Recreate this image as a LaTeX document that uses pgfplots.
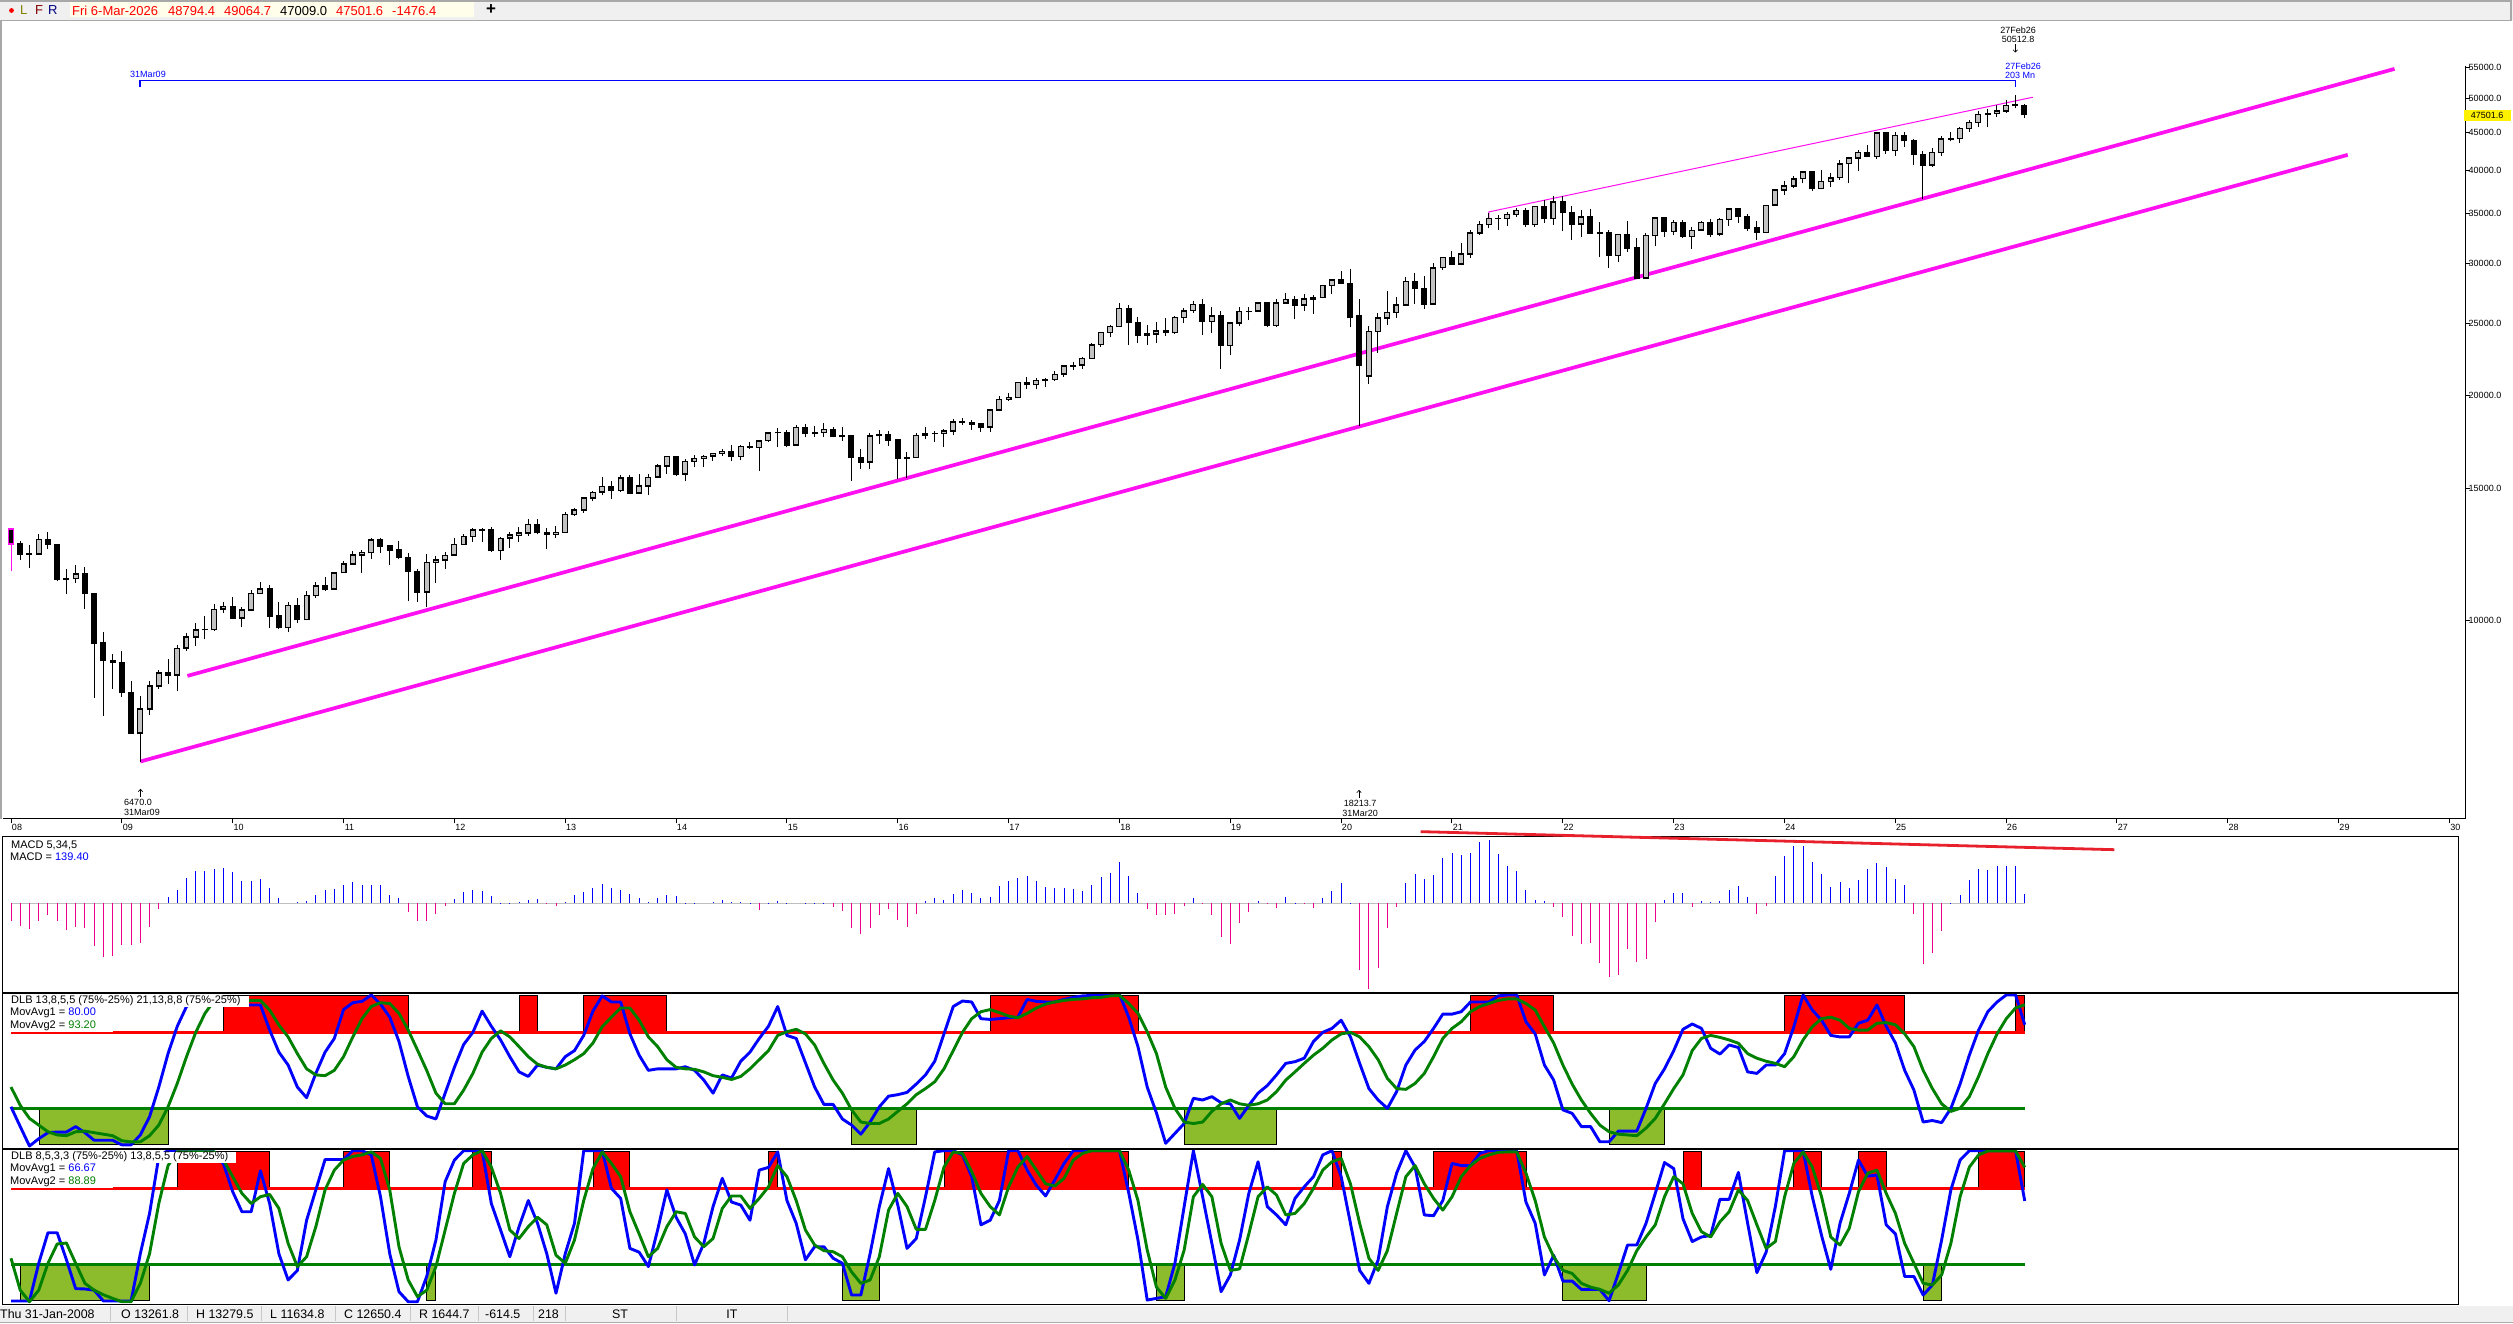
\documentclass[border=0pt]{standalone}
\usepackage{pgfplots}
\pgfplotsset{compat=1.18}
\usepackage{pgfplotstable}
\usepackage{fontspec}
\setmainfont{Liberation Sans}
\usetikzlibrary{arrows.meta}
\definecolor{mag}{HTML}{FF10F0}
\definecolor{gr}{HTML}{008000}
\definecolor{zone}{HTML}{8CBB2C}
\definecolor{bar}{HTML}{F0F0F0}
\definecolor{frame}{HTML}{A8A8A8}
\newcommand\fsz[1]{\fontsize{#1}{#1}\selectfont}
\pgfplotstableread{
i o h l c
0 13262 13280 11635 12650
1 12650 12767 12034 12266
2 12266 12620 11731 12263
3 12263 13031 12260 12820
4 12820 13136 12442 12638
5 12638 12660 11287 11350
6 11350 11698 10827 11378
7 11378 11867 11221 11544
8 11544 11790 10365 10851
9 10851 10882 7882 9325
10 9325 9654 7449 8829
11 8829 9026 8090 8776
12 8776 9088 7905 8001
13 8001 8300 7050 7063
14 7063 7925 6470 7609
15 7609 8291 7472 8168
16 8168 8590 8086 8500
17 8500 8880 8210 8447
18 8447 9270 8050 9172
19 9172 9620 9105 9496
20 9496 9920 9250 9712
21 9712 10119 9430 9713
22 9713 10500 9680 10345
23 10345 10580 10240 10428
24 10428 10730 10025 10067
25 10067 10430 9805 10325
26 10325 10970 10300 10856
27 10856 11255 10840 11008
28 11008 11150 9775 10136
29 10136 10590 9745 9774
30 9774 10590 9630 10465
31 10465 10720 9925 10014
32 10014 10950 10000 10788
33 10788 11245 10725 11118
34 11118 11430 10940 11006
35 11006 11610 11000 11577
36 11577 12000 11570 11891
37 11891 12390 11880 12226
38 12226 12420 11555 12319
39 12319 12876 12090 12810
40 12810 12876 12303 12569
41 12569 12600 11862 12414
42 12414 12750 12095 12143
43 12143 12290 10600 11613
44 11613 11720 10590 10913
45 10913 12280 10404 11955
46 11955 12200 11230 12045
47 12045 12330 11710 12217
48 12217 12880 12200 12632
49 12632 13060 12620 12952
50 12952 13300 12745 13212
51 13212 13297 12710 13213
52 13213 13338 12340 12393
53 12393 12910 12035 12880
54 12880 13125 12500 13008
55 13008 13330 12720 13090
56 13090 13650 12960 13437
57 13437 13660 13035 13096
58 13096 13300 12470 13025
59 13025 13365 12880 13104
60 13104 13970 13100 13860
61 13860 14137 13785 14054
62 14054 14585 13937 14578
63 14578 14890 14434 14839
64 14839 15542 14700 15115
65 15115 15340 14550 14909
66 14909 15635 14860 15499
67 15499 15658 14777 14810
68 14810 15709 14777 15129
69 15129 15700 14719 15545
70 15545 16174 15500 16086
71 16086 16588 15703 16576
72 16576 16588 15620 15698
73 15698 16420 15340 16321
74 16321 16630 16060 16457
75 16457 16630 16015 16580
76 16580 16735 16360 16717
77 16717 16970 16580 16826
78 16826 17150 16333 16563
79 16563 17150 16370 17098
80 17098 17350 16945 17042
81 17042 17395 15855 17390
82 17390 17894 17350 17828
83 17828 18103 17067 17823
84 17823 17951 17037 17164
85 17164 18244 17150 18132
86 18132 18289 17580 17776
87 17776 18175 17600 17840
88 17840 18351 17580 18010
89 18010 18168 17580 17619
90 17619 18137 17399 17689
91 17689 17700 15370 16528
92 16528 16933 15942 16284
93 16284 17799 15940 17663
94 17663 17978 17210 17719
95 17719 17900 17139 17425
96 17425 17430 15450 16466
97 16466 16795 15503 16516
98 16516 17790 16510 17685
99 17685 18167 17484 17773
100 17773 17934 17331 17787
101 17787 18016 17063 17929
102 17929 18622 17713 18432
103 18432 18668 18247 18400
104 18400 18530 17992 18308
105 18308 18399 17884 18142
106 18142 19152 17884 19123
107 19123 19988 19100 19762
108 19762 20126 19677 19864
109 19864 20851 19831 20812
110 20812 21169 20413 20663
111 20663 21070 20379 20940
112 20940 21112 20553 21008
113 21008 21535 20900 21349
114 21349 21929 21170 21891
115 21891 22180 21600 21948
116 21948 22500 21709 22405
117 22405 23485 22400 23377
118 23377 24330 23242 24272
119 24272 24876 23921 24719
120 24719 26617 24700 26149
121 26149 26420 23360 25029
122 25029 25449 23509 24103
123 24103 24858 23344 24163
124 24163 25087 23531 24415
125 24415 25403 23998 24271
126 24271 25585 24200 25415
127 25415 26168 24965 25964
128 25964 26769 25800 26458
129 26458 26951 24122 25115
130 25115 26277 24268 25538
131 25538 25980 21713 23327
132 23327 25000 22639 24999
133 24999 26241 24800 25916
134 25916 26241 25208 25928
135 25928 26696 25900 26592
136 26592 26696 24680 24815
137 24815 26900 24680 26599
138 26599 27399 26580 26864
139 26864 27140 25339 26403
140 26403 27306 25978 26917
141 26917 27290 25743 27046
142 27046 28119 27000 28051
143 28051 28607 27325 28538
144 28538 29373 28169 28256
145 28256 29568 24681 25409
146 25590 26953 18214 21917
147 21227 24764 20735 24346
148 24346 25758 22790 25383
149 25383 27580 24843 25813
150 25813 27088 25390 26428
151 26428 28800 26400 28430
152 28430 29199 26537 27782
153 27782 28902 26143 26501
154 26501 30116 26490 29639
155 29639 30637 29400 30606
156 30606 31193 29856 29983
157 29983 31985 29856 30932
158 30932 33259 30547 32982
159 32982 34257 32835 33874
160 33874 35091 33473 34529
161 34529 34849 33271 34503
162 34503 35171 33741 34935
163 34935 35631 34690 35361
164 35361 35631 33613 33844
165 33844 35892 33613 35820
166 35820 36565 34006 34484
167 34484 36934 33860 36338
168 36338 36952 33150 35132
169 35132 35824 32272 33893
170 33893 35372 32632 34678
171 34678 35492 32913 32977
172 32977 34118 30635 32990
173 32990 33272 29653 30775
174 30775 32910 30143 32845
175 32845 34281 31155 31510
176 31510 32504 28715 28726
177 28726 33000 28660 32733
178 32733 34700 31727 34590
179 34590 34712 32574 33147
180 33147 34334 32812 34086
181 34086 34379 32500 32657
182 32657 33650 31430 33274
183 33274 34257 33235 34098
184 34098 34400 32587 32908
185 32908 34600 32700 34408
186 34408 35679 33705 35560
187 35560 35679 34029 34722
188 34722 34979 33235 33508
189 33508 34256 32327 33052
190 33052 36000 33000 35951
191 35951 37778 35900 37690
192 37690 38783 37122 38150
193 38150 39282 37960 38996
194 38996 39889 38450 39807
195 39807 39889 37611 37816
196 37816 40077 37750 38686
197 38686 39746 38027 39119
198 39119 41376 38900 40843
199 40843 41577 38499 41563
200 41563 42628 40000 42330
201 42330 43325 41700 41763
202 41763 45073 41450 44911
203 44911 45073 42110 42544
204 42544 45054 41844 44545
205 44545 45000 43050 43841
206 43841 44050 40661 42002
207 42002 42500 36612 40669
208 40669 42842 40420 42270
209 42270 44500 41830 44095
210 44095 45103 43750 44131
211 44131 45775 43500 45545
212 45545 46714 45050 46398
213 46398 48040 45728 47563
214 47563 48431 45728 47716
215 47716 48886 47240 48063
216 48063 49640 47800 48892
217 48892 50513 48500 48978
218 48794 49065 47009 47502
}\ohlc
\pgfplotstableread{
i m bi gi bii gii
0 -260 26 39 0.9 29
1 -340 13 27 0.9 8
2 -385 0.2 18.4 0.9 0.4
3 -260 5 14 25.7 8
4 -175 9 9.6 45.8 25.7
5 -260 9.4 7.5 45.8 38.4
6 -400 9.4 7 28 39
7 -350 13 9.6 9 25.7
8 -370 9 10 8.8 12.5
9 -635 4 9 8 8
10 -800 4 8 0.9 5
11 -790 4 7 0.9 2.6
12 -625 1 3.7 0.9 0.4
13 -625 1 2.9 0.9 0.4
14 -590 7.5 3 32 12.5
15 -355 19.5 7 58.5 32
16 -85 39 14 95.8 65
17 90 61 26 100 90
18 200 79 41.4 99 99
19 380 92 59 99 99
20 475 96 75 99 99
21 485 97 87.5 99 99
22 515 97 96 99 99
23 530 97 96 91 93.6
24 465 93 96 72.8 82.7
25 335 93 96 59.6 71.7
26 335 93 96 59.6 65
27 365 93 96 86.6 69.5
28 230 76.5 89.7 65 71
29 80 62 79.8 32 61.8
30 0 53.5 72 14.7 38.8
31 10 39 61 21 23.5
32 35 32 51 54 30
33 125 48 47 74 49.8
34 190 62 46.5 94 74
35 215 71 50 94 87
36 275 90 59 94 93.6
37 320 94.5 72 99.8 96
38 265 95.4 84 99.8 97
39 270 99.6 92 97 99
40 265 93.6 94.5 69.5 94.7
41 125 85 94 32 74
42 70 69 87.5 7 36.6
43 -130 46 76.5 0.4 14.7
44 -260 26 63.4 0.4 3.7
45 -260 20 50 17 8
46 -170 18 35 41 23.5
47 -50 35 28 79.4 47.6
48 65 52 28 93.6 71.7
49 170 67 37 99.8 91.4
50 200 75 48 99.8 97
51 185 89 62 99.8 99.8
52 100 79 71 65 89
53 5 70 76 47.6 71.7
54 5 59 72 30 47.6
55 10 49 65.6 49.8 42
56 50 46 59 67 49.8
57 65 53.5 54 52 56
58 -20 52 52 32 51
59 -40 51 51 6 31
60 20 59 53.5 32 25.7
61 115 63 57 52 41
62 170 73 61 99.8 67
63 230 89 68 99.8 88
64 290 99 78.7 99.8 99
65 225 95 85 75 91.4
66 200 95 91 68.4 82.7
67 140 74 91 35.5 59.6
68 70 60 83 33 45
69 10 50 72 23.5 30
70 80 51 65.6 47.6 35.5
71 125 51 57 74 49.8
72 100 51 52 56 59.6
73 5 52.4 51 45 58.5
74 5 50 50.7 24.6 43
75 0 43.6 49 38.8 36.6
76 10 35 46.5 63 42
77 40 47 45.4 81.6 61.8
78 10 45 44 66 70
79 10 56 46 64 70
80 5 62 51 54 61.8
81 -100 71 57 87 68.4
82 5 79 63 88.8 76
83 35 92 73 99 90
84 5 73 75.4 67 82.7
85 0 71 77 52 67
86 5 55 74 28 47.6
87 5 39 66.7 36.6 37.7
88 5 27.6 54.6 36.6 34
89 -55 27.6 43.6 29 33.3
90 -115 18 35 25.7 30
91 -365 14 24 4.8 20
92 -460 8 16 4.8 12.5
93 -365 16 15 32 14.7
94 -175 26 15 63 30
95 -85 33 18 88 60.7
96 -250 34 23 64 71.7
97 -350 35.5 28 35.5 63
98 -160 41 34 42 48
99 35 47 38 69.5 48
100 80 56 42.5 99 67
101 50 74 51 99.8 89
102 140 92 63 99.8 99
103 200 95.6 75 97 98
104 155 95 84 82.7 86
105 80 84 88.6 51 71.7
106 95 83.5 90 54 63
107 260 84 88 67 57.5
108 335 84.6 85.7 99.8 76
109 380 85 84.6 99.8 89
110 410 96.7 87.5 87 96
111 335 95.4 91 77 87
112 245 95 93.6 70 78
113 230 95 95 80.5 76.5
114 230 96.7 96 91.4 81.6
115 215 98 96.7 99.8 93.6
116 185 99 97 99.8 98
117 275 99.3 97.8 99.8 99.8
118 395 99.6 98 99.8 99.8
119 455 99.8 99 99.8 99.8
120 620 100 99.3 99.8 99.8
121 410 85 94 72 87
122 155 65.6 87.5 41 67
123 -85 39 75.4 1.5 34.4
124 -175 22 61 2.6 10
125 -175 2 39 3.7 2.6
126 -160 8.5 25 25.7 14.7
127 -40 15 16 63 34.4
128 80 31.6 15 99.8 69.5
129 -20 30.5 16 69.5 77.6
130 -175 32.7 23 38.8 69.5
131 -505 28.7 28 7 38.8
132 -610 28 30.5 18 21
133 -295 18.4 28 41 22
134 -130 27 27 71.7 45
135 35 35 28 92.5 69.5
136 -20 40 30.5 63 76
137 -70 47 36 57.5 70.6
138 95 54.6 43.6 51 57.5
139 5 55.7 49 68.4 58.5
140 -10 58 54.6 76 65
141 -70 69 60 82.7 75
142 80 75 64.5 97 87
143 185 77.6 70 99.8 92.5
144 305 83 74 82.7 94.7
145 5 72 75 52 78
146 -1000 54.6 72 21 52
147 -1285 38 65.6 12.5 29
148 -970 30.5 57 27.9 21
149 -370 25 44.7 63 34
150 -55 36 38 85 58.5
151 305 53.5 37.5 99.8 82.7
152 440 63.4 41.4 89 90
153 365 69 48 57.5 78
154 425 77.6 59 57 68.4
155 680 87 71 67 60.7
156 755 87 77.6 91.4 69.5
157 725 88.6 82 90 82.7
158 755 95 88.6 90 90
159 920 95 92 98 94.7
160 950 95 94 99.8 97
161 740 99 96 99.8 98.7
162 560 99.6 97 99.8 99
163 485 99.6 97 99.8 99
164 200 82 94 66 85
165 50 74 89.7 52 67
166 35 53.5 78.7 18 43
167 -55 43.6 68 31 30
168 -205 24 53.5 14 21
169 -490 21.7 41 14 19
170 -610 13 30.5 8.5 12.5
171 -595 13 21.7 8.5 10
172 -895 3 14 8.5 8.5
173 -1105 3 9.6 1 6
174 -1075 10 8 19 11.4
175 -685 10 7.5 37.7 21
176 -880 10 7 37.7 34
177 -835 25 12 52 43
178 -280 41.4 18.4 71.7 51
179 50 51 28 92 69.5
180 155 63 38 88 82.7
181 155 77 47 55 78
182 -55 80.5 63 40 58.5
183 35 77.6 71 43 46.5
184 15 64.5 73 44 43
185 35 60.7 71.7 67.8 53
186 200 66.7 70 67.8 59.6
187 260 65 67.8 85.5 74
188 95 49 61 52 67
189 -160 48 58 19.5 51
190 -40 53.5 56 33 35.5
191 410 53.5 54.6 63 40
192 710 61 52.4 99.8 69.5
193 860 78.7 59 99.8 91.4
194 860 99.6 70 99.8 99
195 620 89.7 78.7 69.5 89
196 440 83 84 44 69.5
197 245 73 85 21.7 43
198 320 72 83 52 37.7
199 230 72 77.6 71.7 48.7
200 350 81 76.5 93.6 72.8
201 515 83 76.5 83 85
202 605 93 81 83.8 87
203 545 79 81.4 51 71.7
204 365 68 80 45 58.5
205 275 50 74 17 38.8
206 -160 37 65.6 17 25.7
207 -910 16 50 4.8 12.5
208 -745 17 38 11.4 11.4
209 -415 15.6 28 41 18
210 5 25 23 74 38.8
211 125 41 25 93.6 69.5
212 350 60 32.7 99.8 89
213 515 76.5 46 99.8 97
214 500 88.6 61 99.8 99.6
215 560 95 74 99.8 99.6
216 560 99.6 84 99.8 99.6
217 560 99.6 91 99.8 99.6
218 140 80 93.2 66.7 88.9
}\ind
\pgfplotsset{
  lower/.style={anchor=south west, scale only axis, xmin=-0.899, xmax=264.9,
    width=2455.3pt, xtick=\empty, ytick=\empty, axis line style={line width=1pt}},
  rz/.style={fill=red, draw=black, line width=0.9pt},
  gz/.style={fill=zone, draw=black, line width=0.9pt},
  bars/.style 2 args={draw=none, mark=none, forget plot,
    error bars/.cd, y dir=plus, y explicit, error mark=none,
    error bar style={draw=#1, line width=#2}},
}
\begin{document}
\begin{tikzpicture}
\path[use as bounding box] (0pt,0pt) rectangle (2513pt,1323pt);
\fill[white] (0pt,0pt) rectangle (2513pt,1323pt);
% --- price pane
\begin{axis}[anchor=south west, at={(2.7pt,504pt)}, scale only axis, width=2462.3pt, height=798pt,
  ymode=log, xmin=-0.899, xmax=265.7, ymin=5420, ymax=63437,
  axis x line*=bottom, axis y line*=right, y axis line style={draw=none},
  x axis line style={line width=1pt,-}, tick style={black,line width=0.8pt},
  tick align=outside, major tick length=4.5pt, yminorticks=false, log basis y=10,
  xtick={0,12,...,264},
  xticklabels={08,09,10,11,12,13,14,15,16,17,18,19,20,21,22,23,24,25,26,27,28,29,30},
  xticklabel style={font=\fsz{9}, anchor=north, xshift=6pt, inner sep=0pt, yshift=-0.5pt},
  ytick={10000,15000,20000,25000,30000,35000,40000,45000,50000,55000},
  yticklabels={10000.0,15000.0,20000.0,25000.0,30000.0,35000.0,40000.0,45000.0,50000.0,55000.0},
  yticklabel style={font=\fsz{9}, anchor=west, inner sep=0pt, xshift=-1pt},
]
\addplot[mag, line width=3.7pt, forget plot] coordinates {(14,6470)(253,41980)};
\addplot[mag, line width=3.7pt, forget plot] coordinates {(19.1,8424)(258.07,54720)};
\addplot[mag, line width=1pt, forget plot] coordinates {(160,34570)(160,35210)(218.9,50140)};
\addplot[blue, line width=1.2pt, forget plot] coordinates {(217,51760)(217,52840)(14,52840)};
\addplot[blue, line width=2pt, forget plot] coordinates {(14,52840)(14,51700)};
% wicks
\addplot[bars={black}{1pt}] table[x=i, y=l, y error plus expr=\thisrow{h}-\thisrow{l}] {\ohlc};
% body outline (black)
\addplot[bars={black}{6pt}] table[x=i,
  y expr={min(\thisrow{o},\thisrow{c})/1.002},
  y error plus expr={max(\thisrow{o},\thisrow{c})*1.002-min(\thisrow{o},\thisrow{c})/1.002}] {\ohlc};
% body fill of rising months (grey)
\addplot[bars={black!24}{3.8pt}] table[x=i,
  y expr={\thisrow{o}*1.0025},
  y error plus expr={ifthenelse(\thisrow{c}>\thisrow{o}*1.005,\thisrow{c}/1.0025-\thisrow{o}*1.0025,0)}] {\ohlc};
% first month, highlighted
\addplot[mag, line width=1pt, forget plot] coordinates {(0,11635)(0,13280)};
\addplot[mag, line width=6pt, forget plot] coordinates {(0,12610)(0,13300)};
\addplot[black, line width=3.4pt, forget plot] coordinates {(0,12690)(0,13220)};
\end{axis}
% --- MACD pane
\begin{axis}[lower, at={(2.7pt,330pt)}, height=156pt, ymin=-1345, ymax=990, clip=false]
\addplot[black!25, line width=1pt, forget plot] coordinates {(0,0)(218,0)};
\addplot[ycomb, blue, line width=1pt, mark=none, forget plot] table[x=i, y expr={max(\thisrow{m},0)}] {\ind};
\addplot[ycomb, magenta, line width=1pt, mark=none, forget plot] table[x=i, y expr={min(\thisrow{m},0)}] {\ind};
\addplot[color={rgb,255:red,232;green,32;blue,44}, line width=2.8pt, forget plot] coordinates {(152.6,1070)(227.7,800)};
\end{axis}
% --- first stochastic pane
\begin{axis}[lower, at={(2.7pt,174pt)}, height=156pt, ymin=-1.75, ymax=100.9]
\addplot[rz] coordinates {(23,75.4)(43,75.4)(43,99.6)(23,99.6)} --cycle;
\addplot[rz] coordinates {(55,75.4)(57,75.4)(57,99.6)(55,99.6)} --cycle;
\addplot[rz] coordinates {(62,75.4)(71,75.4)(71,99.6)(62,99.6)} --cycle;
\addplot[rz] coordinates {(106,75.4)(122,75.4)(122,99.6)(106,99.6)} --cycle;
\addplot[rz] coordinates {(158,75.4)(167,75.4)(167,99.6)(158,99.6)} --cycle;
\addplot[rz] coordinates {(192,75.4)(205,75.4)(205,99.6)(192,99.6)} --cycle;
\addplot[rz] coordinates {(217,75.4)(218,75.4)(218,99.6)(217,99.6)} --cycle;
\addplot[gz] coordinates {(3.1,1.3)(17,1.3)(17,25)(3.1,25)} --cycle;
\addplot[gz] coordinates {(91,1.3)(98,1.3)(98,25)(91,25)} --cycle;
\addplot[gz] coordinates {(127,1.3)(137,1.3)(137,25)(127,25)} --cycle;
\addplot[gz] coordinates {(173,1.3)(179,1.3)(179,25)(173,25)} --cycle;
\addplot[red, line width=2.8pt] coordinates {(0,75)(218,75)};
\addplot[gr, line width=2.8pt] coordinates {(0,25)(218,25)};
\addplot[blue, line width=2.9pt, line join=round] table[x=i, y=bi] {\ind};
\addplot[gr, line width=2.9pt, line join=round] table[x=i, y=gi] {\ind};
\end{axis}
% --- second stochastic pane
\begin{axis}[lower, at={(2.7pt,19pt)}, height=155pt, ymin=-1.1, ymax=100.9]
\addplot[rz] coordinates {(18,75.4)(28,75.4)(28,99.3)(18,99.3)} --cycle;
\addplot[rz] coordinates {(36,75.4)(41,75.4)(41,99.3)(36,99.3)} --cycle;
\addplot[rz] coordinates {(50,75.4)(52,75.4)(52,99.3)(50,99.3)} --cycle;
\addplot[rz] coordinates {(63,75.4)(67,75.4)(67,99.3)(63,99.3)} --cycle;
\addplot[rz] coordinates {(82,75.4)(83,75.4)(83,99.3)(82,99.3)} --cycle;
\addplot[rz] coordinates {(101,75.4)(121,75.4)(121,99.3)(101,99.3)} --cycle;
\addplot[rz] coordinates {(143,75.4)(144,75.4)(144,99.3)(143,99.3)} --cycle;
\addplot[rz] coordinates {(154,75.4)(164,75.4)(164,99.3)(154,99.3)} --cycle;
\addplot[rz] coordinates {(181,75.4)(183,75.4)(183,99.3)(181,99.3)} --cycle;
\addplot[rz] coordinates {(193,75.4)(196,75.4)(196,99.3)(193,99.3)} --cycle;
\addplot[rz] coordinates {(200,75.4)(203,75.4)(203,99.3)(200,99.3)} --cycle;
\addplot[rz] coordinates {(213,75.4)(218,75.4)(218,99.3)(213,99.3)} --cycle;
\addplot[gz] coordinates {(1,1.3)(15,1.3)(15,25)(1,25)} --cycle;
\addplot[gz] coordinates {(45,1.3)(46,1.3)(46,25)(45,25)} --cycle;
\addplot[gz] coordinates {(90,1.3)(94,1.3)(94,25)(90,25)} --cycle;
\addplot[gz] coordinates {(124,1.3)(127,1.3)(127,25)(124,25)} --cycle;
\addplot[gz] coordinates {(168,1.3)(177,1.3)(177,25)(168,25)} --cycle;
\addplot[gz] coordinates {(207,1.3)(209,1.3)(209,25)(207,25)} --cycle;
\addplot[red, line width=2.8pt] coordinates {(0,75)(218,75)};
\addplot[gr, line width=2.8pt] coordinates {(0,25)(218,25)};
\addplot[blue, line width=2.9pt, line join=round] table[x=i, y=bii] {\ind};
\addplot[gr, line width=2.9pt, line join=round] table[x=i, y=gii] {\ind};
\end{axis}
% --- frame and text, in pixels from the top left
\begin{scope}[shift={(0pt,1323pt)}, x=1pt, y=-1pt]
\draw[line width=2.6pt] (2.7,993)--(2458,993);
\draw[line width=2.6pt] (2.7,1149)--(2458,1149);
\draw[line width=0.9pt] (2465,66)--(2465,819);
% toolbar
\fill[bar] (0,0) rectangle (2513,20);
\draw[frame, line width=1.4pt] (0,1)--(2511,1)--(2511,20.5)--(1,20.5)--(1,819);
\fill[yellow!8] (70,2) rectangle (474,17.5);
\fill[red] (11.5,10.5) circle (2.4);
\tikzset{t/.style={anchor=west, inner sep=0pt, font=\fsz{13}}}
\node[t, text={rgb,255:red,128;green,128;blue,0}] at (20,10) {L};
\node[t, text={rgb,255:red,128;green,0;blue,0}] at (35,10) {F};
\node[t, text={rgb,255:red,0;green,0;blue,128}] at (48,10) {R};
\node[t, red] at (72,11) {Fri 6-Mar-2026};
\node[t, red] at (168,11) {48794.4};
\node[t, red] at (224,11) {49064.7};
\node[t, black] at (280,11) {47009.0};
\node[t, red] at (336,11.5) {47501.6};
\node[t, red] at (392,11) {-1476.4};
\node[anchor=center, inner sep=0pt, font=\fsz{17}\bfseries] at (491,9.5) {+};
% price annotations
\tikzset{c/.style={anchor=center, inner sep=0pt, font=\fsz{9}}}
\node[c, blue] at (148,74.5) {31Mar09};
\node[c] at (2018,30) {27Feb26};
\node[c] at (2018,39.6) {50512.8};
\draw[-{To[length=3pt,width=5pt]}, line width=0.6pt] (2015.3,44)--(2015.3,52.5);
\node[c, blue] at (2023,66.7) {27Feb26};
\node[c, blue, anchor=west] at (2005,75) {203 Mn};
\fill[yellow] (2464,110) rectangle (2511,121);
\node[c] at (2487,115.7) {47501.6};
\draw[-{To[length=3pt,width=5pt]}, line width=0.6pt] (140.5,797)--(140.5,789);
\node[c] at (138,802.5) {6470.0};
\node[c] at (142,812) {31Mar09};
\draw[-{To[length=3pt,width=5pt]}, line width=0.6pt] (1359,798)--(1359,790);
\node[c] at (1360,803) {18213.7};
\node[c] at (1360,813) {31Mar20};
% panel legends
\tikzset{l/.style={anchor=west, inner sep=0pt, font=\fsz{11}}}
\node[l] at (11,845) {MACD 5,34,5};
\node[l] at (10,857) {MACD = \textcolor{blue}{139.40}};
\fill[white] (8,996) rectangle (249,1007);
\fill[white] (8,1007) rectangle (112.5,1032);
\node[l] at (11,1001) {DLB 13,8,5,5 (75\%-25\%) 21,13,8,8 (75\%-25\%)};
\node[l] at (10,1013) {MovAvg1 = \textcolor{blue}{80.00}};
\node[l] at (10,1026) {MovAvg2 = \textcolor{gr}{93.20}};
\fill[white] (8,1152) rectangle (236,1163);
\fill[white] (8,1163) rectangle (112.5,1188);
\node[l] at (11,1157) {DLB 8,5,3,3 (75\%-25\%) 13,8,5,5 (75\%-25\%)};
\node[l] at (10,1169) {MovAvg1 = \textcolor{blue}{66.67}};
\node[l] at (10,1182) {MovAvg2 = \textcolor{gr}{88.89}};
% status bar
\fill[bar] (0,1305.5) rectangle (2513,1323);
\foreach \x in {110,187,261,335,410,478,533,565,676,787} \draw[black!22, line width=0.8pt] (\x,1306)--(\x,1321);
\draw[black!32, line width=1pt] (0,1322.5)--(2513,1322.5);
\tikzset{s/.style={anchor=west, inner sep=0pt, font=\fsz{12.4}}}
\node[s] at (0,1314) {Thu 31-Jan-2008};
\node[s] at (121,1314) {O 13261.8};
\node[s] at (196,1314) {H 13279.5};
\node[s] at (270,1314) {L 11634.8};
\node[s] at (344,1314) {C 12650.4};
\node[s] at (419,1314) {R 1644.7};
\node[s] at (485,1314) {-614.5};
\node[s] at (538,1314) {218};
\node[s, anchor=center] at (620,1314) {ST};
\node[s, anchor=center] at (732,1314) {IT};
\end{scope}
\end{tikzpicture}
\end{document}
